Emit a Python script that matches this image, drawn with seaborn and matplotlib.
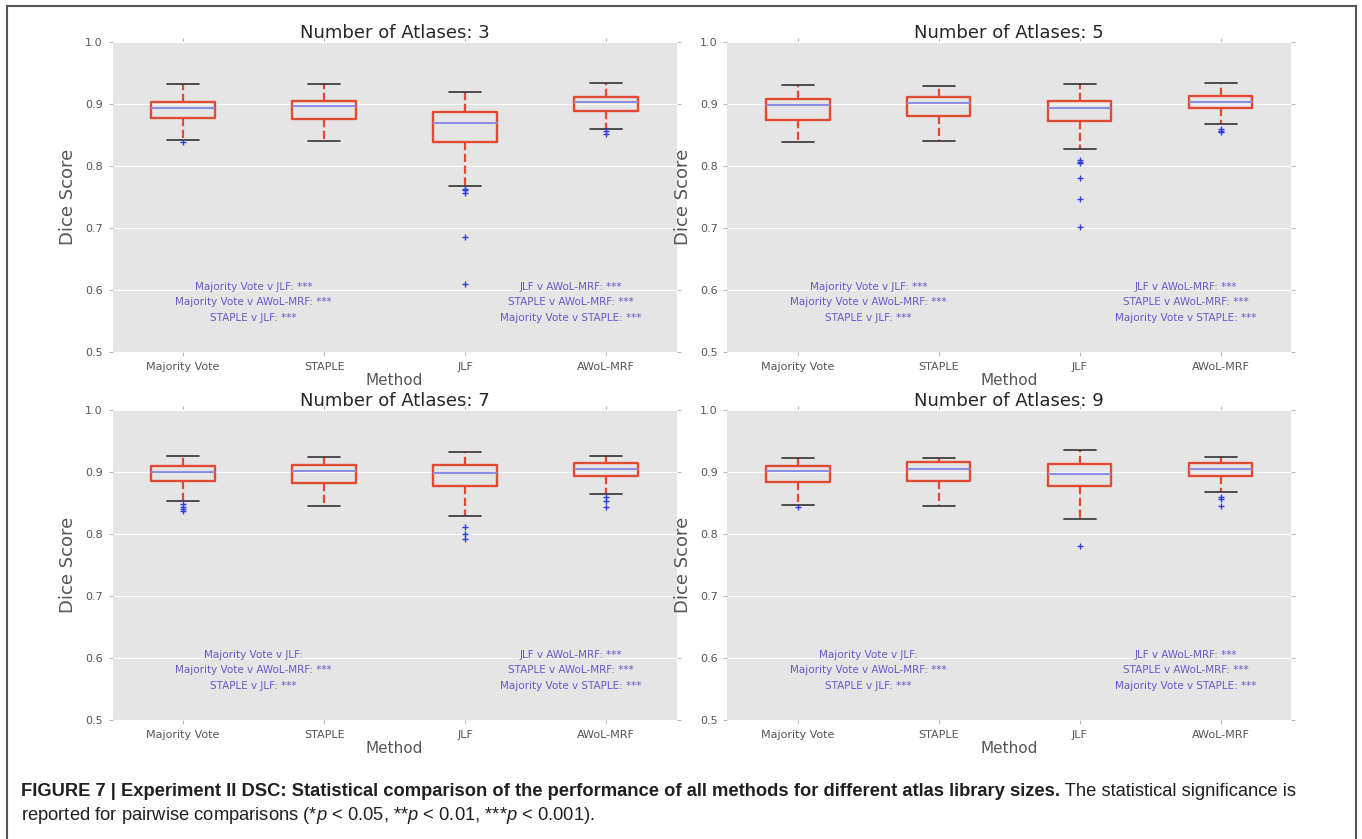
import numpy as np
import pandas as pd
import matplotlib
matplotlib.use("Agg")
import matplotlib.pyplot as plt
from matplotlib.patches import Rectangle
import seaborn as sns

# Methods on the x axis and the atlas library sizes (one panel each)
methods = ["Majority Vote", "STAPLE", "JLF", "AWoL-MRF"]
atlas_counts = [3, 5, 7, 9]

# Five-number summaries, per method:
# [lower whisker, Q1, median, Q3, upper whisker]
stats_3 = [[0.842, 0.878, 0.894, 0.903, 0.932],
           [0.841, 0.876, 0.896, 0.905, 0.932],
           [0.768, 0.838, 0.869, 0.887, 0.919],
           [0.859, 0.889, 0.903, 0.912, 0.933]]
stats_5 = [[0.839, 0.874, 0.899, 0.908, 0.930],
           [0.840, 0.880, 0.902, 0.912, 0.929],
           [0.827, 0.873, 0.894, 0.905, 0.932],
           [0.867, 0.894, 0.903, 0.913, 0.933]]
stats_7 = [[0.853, 0.886, 0.900, 0.909, 0.926],
           [0.845, 0.883, 0.902, 0.912, 0.924],
           [0.829, 0.877, 0.898, 0.912, 0.933],
           [0.865, 0.894, 0.905, 0.915, 0.926]]
stats_9 = [[0.847, 0.884, 0.901, 0.909, 0.922],
           [0.846, 0.886, 0.905, 0.916, 0.923],
           [0.825, 0.878, 0.897, 0.913, 0.935],
           [0.867, 0.893, 0.905, 0.915, 0.924]]

# Outliers ('+' markers) per method
outliers_3 = [[0.839], [], [0.763, 0.761, 0.757, 0.686, 0.609], [0.857, 0.852]]
outliers_5 = [[], [], [0.810, 0.807, 0.805, 0.780, 0.747, 0.701], [0.860, 0.857, 0.854]]
outliers_7 = [[0.848, 0.844, 0.840, 0.837], [], [0.811, 0.800, 0.792], [0.859, 0.853, 0.844]]
outliers_9 = [[0.843], [], [0.780], [0.860, 0.856, 0.846]]

# Significance annotations
sig_left_3 = ["Majority Vote v JLF: ***", "Majority Vote v AWoL-MRF: ***", "STAPLE v JLF: ***"]
sig_left_7 = ["Majority Vote v JLF:", "Majority Vote v AWoL-MRF: ***", "STAPLE v JLF: ***"]
sig_right = ["JLF v AWoL-MRF: ***", "STAPLE v AWoL-MRF: ***", "Majority Vote v STAPLE: ***"]

panel_stats = [stats_3, stats_5, stats_7, stats_9]
panel_outliers = [outliers_3, outliers_5, outliers_7, outliers_9]
panel_left = [sig_left_3, sig_left_3, sig_left_7, sig_left_7]

# Colours
box_red = "#E24A33"
median_col = "#8E8EE0"
flier_col = "#3040DD"
text_col = "#6A5ACD"

sns.set_style("darkgrid", {"axes.facecolor": "#E5E5E5", "grid.color": "white",
                           "xtick.bottom": True, "ytick.left": True,
                           "xtick.top": True, "ytick.right": True})
plt.rcParams["font.family"] = ["DejaVu Sans"]
plt.rcParams["xtick.color"] = "#BBBBBB"
plt.rcParams["ytick.color"] = "#BBBBBB"
plt.rcParams["xtick.labelcolor"] = "#555555"
plt.rcParams["ytick.labelcolor"] = "#555555"
plt.rcParams["xtick.direction"] = "out"
plt.rcParams["ytick.direction"] = "out"
plt.rcParams["mathtext.fontset"] = "custom"
plt.rcParams["mathtext.rm"] = "Liberation Sans"
plt.rcParams["mathtext.it"] = "Liberation Sans:italic"

fig = plt.figure(figsize=(13.62, 8.39), dpi=100)

lefts = [0.0827, 0.534, 0.0827, 0.534]
bottoms = [0.5805, 0.5805, 0.1418, 0.1418]

for i, n in enumerate(atlas_counts):
    ax = fig.add_axes([lefts[i], bottoms[i], 0.414, 0.3695])

    # long-format table of the summary values and outliers
    box_df = pd.DataFrame({
        "Method": np.repeat(methods, 5),
        "Dice": np.concatenate(panel_stats[i]),
    })
    fl_method, fl_val = [], []
    for m, vals in zip(methods, panel_outliers[i]):
        fl_method += [m] * len(vals)
        fl_val += vals
    fl_df = pd.DataFrame({"Method": fl_method, "Dice": fl_val})

    sns.boxplot(data=box_df, x="Method", y="Dice", order=methods, whis=(0, 100),
                width=0.45, fill=False, showfliers=False, ax=ax,
                boxprops=dict(color=box_red, linewidth=1.7),
                whiskerprops=dict(color=box_red, linestyle="--", linewidth=1.6),
                capprops=dict(color="#333333", linewidth=1.2),
                medianprops=dict(color=median_col, linewidth=1.5))
    sns.stripplot(data=fl_df, x="Method", y="Dice", order=methods, jitter=False,
                  marker="+", color=flier_col, size=5, linewidth=1, ax=ax)

    ax.set_ylim(0.5, 1.0)
    ax.set_xlim(-0.5, 3.5)
    ax.set_yticks([0.5, 0.6, 0.7, 0.8, 0.9, 1.0])
    ax.set_yticklabels(["0.5", "0.6", "0.7", "0.8", "0.9", "1.0"])
    ax.tick_params(labelsize=8, length=3, width=0.8, pad=4)
    ax.set_title(f"Number of Atlases: {n}", fontsize=13, pad=3)
    ax.set_ylabel("Dice Score", fontsize=13, color="#555555", labelpad=6)
    ax.set_xlabel("Method", fontsize=11, color="#555555", labelpad=1)
    for s in ax.spines.values():
        s.set_visible(False)

    for k, line in enumerate(panel_left[i]):
        ax.text(0.5, 0.605 - 0.025 * k, line, ha="center", va="center",
                fontsize=7.5, color=text_col)
    for k, line in enumerate(sig_right):
        ax.text(2.75, 0.605 - 0.025 * k, line, ha="center", va="center",
                fontsize=7.5, color=text_col)

# frame around the figure
fig.add_artist(Rectangle((7 / 1362, -0.02), 1349 / 1362, 1.02 - 6 / 839,
                         transform=fig.transFigure, fill=False,
                         edgecolor="#555555", linewidth=1.5))

# caption
cap_x = 21 / 1362
bold = fig.text(cap_x, 1 - 796 / 839,
                "FIGURE 7 | Experiment II DSC: Statistical comparison of the performance "
                "of all methods for different atlas library sizes.",
                fontsize=13.2, fontweight="bold", family="Liberation Sans",
                color="#231F20", va="baseline")
fig.canvas.draw()
bb = bold.get_window_extent().transformed(fig.transFigure.inverted())
fig.text(bb.x1, 1 - 796 / 839, " The statistical significance is",
         fontsize=13.2, family="Liberation Sans", color="#231F20", va="baseline")
fig.text(cap_x, 1 - 820 / 839,
         r"reported for pairwise comparisons (*$p$ < 0.05, **$p$ < 0.01, ***$p$ < 0.001).",
         fontsize=13.2, family="Liberation Sans", color="#231F20", va="baseline")

fig.savefig("out.png", dpi=100)
